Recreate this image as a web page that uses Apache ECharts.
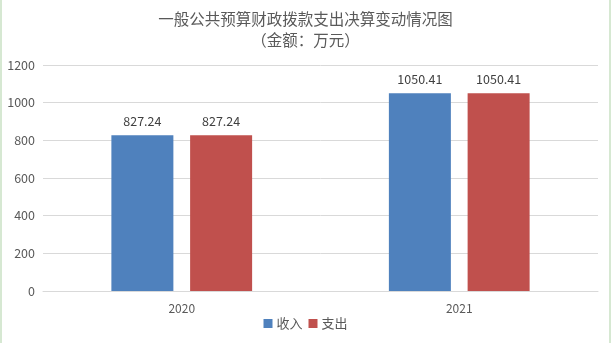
<!DOCTYPE html>
<html><head><meta charset="utf-8">
<script src="https://cdn.jsdelivr.net/npm/echarts@6/dist/echarts.min.js"></script>
<style>html,body{margin:0;padding:0;background:#fff;}#c{width:611px;height:343px;}</style>
</head><body><div id="c"></div>
<script>
const categories = ['2020', '2021'];
const income = [827.24, 1050.41];
const expense = [827.24, 1050.41];
const seriesNames = ['收入', '支出'];
const titleText = '一般公共预算财政拨款支出决算变动情况图\n（金额：万元）';

const chart = echarts.init(document.getElementById('c'), null, {renderer: 'canvas'});
const FF = '"Noto Sans CJK SC", "Microsoft YaHei", sans-serif';
chart.setOption({
  backgroundColor: '#fff',
  animation: false,
  title: {
    text: titleText, left: 'center', top: 4,
    textStyle: {fontFamily: FF, fontSize: 15.5, fontWeight: 'normal', color: '#595959', lineHeight: 21}
  },
  legend: {
    data: seriesNames, left: 'center', top: 312, itemWidth: 9, itemHeight: 9, itemGap: 6,
    icon: 'rect',
    textStyle: {fontFamily: FF, fontSize: 13, color: '#595959', padding: [0,0,0,-1]}
  },
  grid: {left: 43, right: 13, top: 65, bottom: 52},
  xAxis: {
    type: 'category', data: categories,
    axisLine: {lineStyle: {color: '#d9d9d9'}},
    axisTick: {show: false},
    axisLabel: {fontFamily: FF, fontSize: 12, color: '#595959', margin: 11}
  },
  yAxis: {
    type: 'value', min: 0, max: 1200, interval: 200,
    axisLine: {show: false}, axisTick: {show: false},
    splitLine: {lineStyle: {color: '#d9d9d9'}},
    axisLabel: {fontFamily: FF, fontSize: 12.5, color: '#595959', margin: 8, formatter: v => String(v)}
  },
  series: [
    {name: seriesNames[0], type: 'bar', data: income, barWidth: 62, barGap: '27%',
     itemStyle: {color: '#4f81bd'},
     label: {show: true, position: 'top', distance: 8, fontFamily: FF, fontSize: 12.5, color: '#404040', formatter: p => p.value.toFixed(2)}},
    {name: seriesNames[1], type: 'bar', data: expense, barWidth: 62,
     itemStyle: {color: '#c0504d'},
     label: {show: true, position: 'top', distance: 8, fontFamily: FF, fontSize: 12.5, color: '#404040', formatter: p => p.value.toFixed(2)}}
  ],
  graphic: [
    {type: 'rect', left: 0, top: 0, shape: {width: 2, height: 343}, style: {fill: '#d6e8d2'}},
    {type: 'rect', right: 0, top: 0, shape: {width: 2, height: 343}, style: {fill: '#d6e8d2'}}
  ]
});
</script></body></html>
